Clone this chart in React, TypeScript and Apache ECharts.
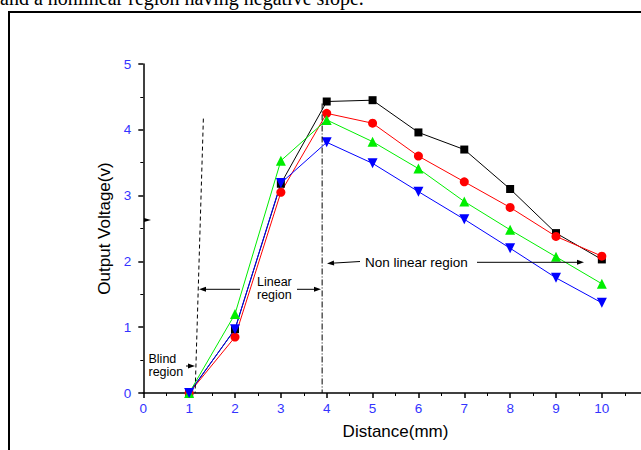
import React, { useEffect, useRef } from "react";
import * as echarts from "echarts";

const distance = [1, 2, 3, 4, 5, 6, 7, 8, 9, 10];
const blackValues = [0, 0.97, 3.18, 4.43, 4.45, 3.96, 3.7, 3.1, 2.43, 2.03];
const redValues = [0, 0.85, 3.05, 4.25, 4.1, 3.6, 3.21, 2.82, 2.38, 2.08];
const greenValues = [0, 1.2, 3.53, 4.15, 3.82, 3.41, 2.91, 2.48, 2.07, 1.66];
const blueValues = [0, 0.97, 3.19, 3.81, 3.49, 3.06, 2.64, 2.2, 1.75, 1.37];

const xMin = 0;
const xMax = 11;
const yMin = 0;
const yMax = 5;

const FONT = "'Liberation Sans', Arial, sans-serif";

export default function App() {
  const ref = useRef<HTMLDivElement>(null);
  useEffect(() => {
    const chart = echarts.init(ref.current!, null, { renderer: "svg" });
    const mk = (vals: number[]) => distance.map((d, i) => [d, vals[i]]);
    const axisCommon = {
      axisLine: { show: true, onZero: false, lineStyle: { color: "#000", width: 1.5 } },
      axisTick: { show: true, inside: false, length: 5, lineStyle: { color: "#000", width: 1.5 } },
      minorTick: { show: true, splitNumber: 2, length: 3, lineStyle: { color: "#000", width: 1 } },
      splitLine: { show: false },
      minorSplitLine: { show: false },
    };
    chart.setOption({
      animation: false,
      backgroundColor: "#fff",
      grid: { left: 143.3, top: 64, bottom: 57, right: 700 - 647.7 },
      xAxis: {
        type: "value",
        min: xMin,
        max: xMax,
        interval: 1,
        ...axisCommon,
        axisLabel: { color: "#3333ff", fontSize: 13.5, margin: 8, fontFamily: FONT },
        name: "Distance(mm)",
        nameLocation: "middle",
        nameGap: 30,
        nameTextStyle: { fontSize: 17, color: "#000", fontFamily: FONT },
      },
      yAxis: {
        type: "value",
        min: yMin,
        max: yMax,
        interval: 1,
        ...axisCommon,
        axisLabel: { color: "#3333ff", fontSize: 13.5, margin: 12, fontFamily: FONT },
        name: "Output Voltage(v)",
        nameLocation: "middle",
        nameGap: 30,
        nameRotate: 90,
        nameTextStyle: { fontSize: 17, color: "#000", fontFamily: FONT },
      },
      series: [
        {
          type: "line",
          data: mk(blackValues),
          symbol: "rect",
          symbolSize: 8,
          lineStyle: { color: "#000", width: 1 },
          itemStyle: { color: "#000" },
        },
        {
          type: "line",
          data: mk(redValues),
          symbol: "circle",
          symbolSize: 9,
          lineStyle: { color: "#ff0000", width: 1 },
          itemStyle: { color: "#ff0000" },
        },
        {
          type: "line",
          data: mk(greenValues),
          symbol: "triangle",
          symbolSize: 10,
          lineStyle: { color: "#00ee00", width: 1 },
          itemStyle: { color: "#00ee00" },
        },
        {
          type: "line",
          data: mk(blueValues),
          symbol: "triangle",
          symbolRotate: 180,
          symbolSize: 10,
          lineStyle: { color: "#0000ff", width: 1 },
          itemStyle: { color: "#0000ff" },
        },
      ],
    });

    const p = (x: number, y: number) => chart.convertToPixel({ gridIndex: 0 }, [x, y]) as number[];
    const line = (a: number[], b: number[], dash?: number[]) => ({
      type: "line",
      z: 50,
      shape: { x1: a[0], y1: a[1], x2: b[0], y2: b[1] },
      style: { stroke: "#000", lineWidth: 1, lineDash: dash },
    });
    const arrow = (a: number[], b: number[]) => {
      const dx = b[0] - a[0];
      const dy = b[1] - a[1];
      const len = Math.hypot(dx, dy);
      const ux = dx / len;
      const uy = dy / len;
      const hl = 7;
      const hw = 2.5;
      const bx = b[0] - ux * hl;
      const by = b[1] - uy * hl;
      return [
        line(a, [bx, by]),
        {
          type: "polygon",
          z: 50,
          shape: {
            points: [
              [b[0], b[1]],
              [bx - uy * hw, by + ux * hw],
              [bx + uy * hw, by - ux * hw],
            ],
          },
          style: { fill: "#000" },
        },
      ];
    };
    const label = (text: string, x: number, y: number) => ({
      type: "text",
      z: 50,
      x,
      y,
      style: {
        text,
        fontSize: 12.5,
        fontFamily: FONT,
        fill: "#000",
        align: "left",
        verticalAlign: "middle",
      },
    });

    chart.setOption({
      graphic: [
        {
          type: "text",
          x: 0,
          y: -2,
          style: {
            text: "and a nonlinear region having negative slope.",
            font: "20px 'Liberation Serif', 'Times New Roman', serif",
            fill: "#000",
            align: "left",
            verticalAlign: "middle",
          },
        },
        {
          type: "rect",
          shape: { x: 9, y: 12, width: 760, height: 500 },
          style: { fill: "none", stroke: "#000", lineWidth: 2 },
        },
        line(p(1.31, 4.17), p(1.13, 0), [4, 3]),
        line(p(3.9, 4.4), p(3.9, 0), [6, 2, 1, 2]),
        ...arrow([240, 289.3], [199, 289.3]),
        ...arrow([297, 289.3], [321, 289.3]),
        label("Linear", 257, 281.5),
        label("region", 257, 294.5),
        ...arrow([186, 366], [195, 366]),
        label("Blind", 148.5, 359.3),
        label("region", 148.5, 372.3),
        ...arrow([360, 261.5], [327, 263.5]),
        ...arrow([477, 262.3], [584, 262.3]),
        { ...label("Non linear region", 365, 262.3), style: { ...label("", 0, 0).style, text: "Non linear region", fontSize: 13.5 } },
        {
          type: "polygon",
          shape: { points: [[144, 218], [151, 220], [144, 222]] },
          style: { fill: "#000" },
        },
      ],
    });
    return () => chart.dispose();
  }, []);
  return (
    <div
      style={{
        position: "fixed",
        left: 0,
        top: 0,
        width: 641,
        height: 450,
        overflow: "hidden",
        background: "#fff",
      }}
    >
      <div ref={ref} style={{ width: 700, height: 450 }} />
    </div>
  );
}
